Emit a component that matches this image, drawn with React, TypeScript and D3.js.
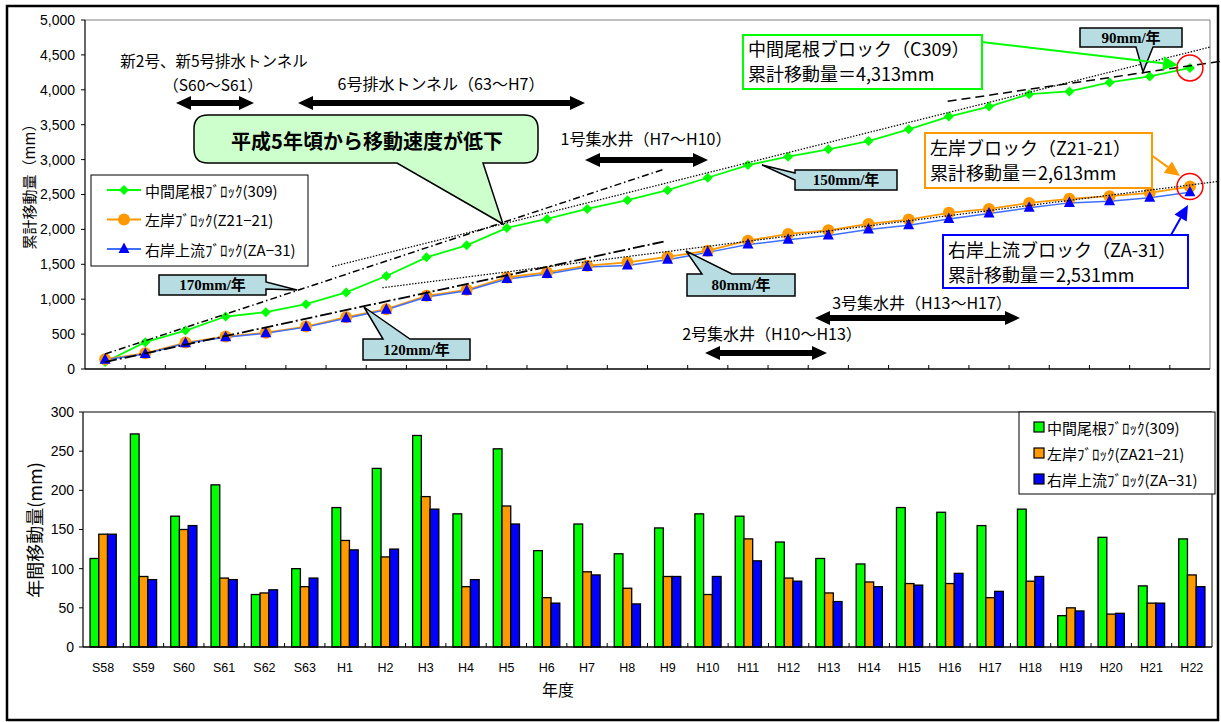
import * as d3 from 'd3';

const categories = [
  'S58', 'S59', 'S60', 'S61', 'S62', 'S63',
  'H1', 'H2', 'H3', 'H4', 'H5', 'H6', 'H7', 'H8', 'H9', 'H10', 'H11',
  'H12', 'H13', 'H14', 'H15', 'H16', 'H17', 'H18', 'H19', 'H20', 'H21', 'H22',
];

// cumulative movement (mm)
const cumChuukan = [100, 385, 550, 752, 814, 929, 1097, 1332, 1600, 1772, 2021, 2150, 2294, 2418, 2562, 2740, 2921, 3042, 3147, 3266, 3434, 3616, 3760, 3937, 3976, 4105, 4191, 4313];
const cumSagan = [140, 225, 378, 464, 520, 608, 742, 857, 1049, 1135, 1312, 1384, 1480, 1527, 1605, 1695, 1839, 1935, 1987, 2079, 2141, 2237, 2294, 2380, 2438, 2476, 2524, 2613];
const cumUgan = [132, 215, 370, 455, 512, 600, 728, 848, 1030, 1121, 1289, 1361, 1461, 1484, 1566, 1671, 1782, 1853, 1911, 1997, 2060, 2150, 2227, 2309, 2380, 2404, 2452, 2531];

// annual movement (mm)
const annualChuukan = [113, 272, 167, 207, 67, 100, 178, 228, 270, 170, 253, 123, 157, 119, 152, 170, 167, 134, 113, 106, 178, 172, 155, 176, 40, 140, 78, 138];
const annualSagan = [144, 90, 150, 88, 69, 77, 136, 115, 192, 77, 180, 63, 96, 75, 90, 67, 138, 88, 69, 83, 81, 81, 63, 84, 50, 42, 56, 92];
const annualUgan = [144, 86, 155, 86, 73, 88, 124, 125, 176, 86, 157, 56, 92, 55, 90, 90, 110, 84, 58, 77, 79, 94, 71, 90, 46, 43, 56, 77];

const topTicks = [0, 500, 1000, 1500, 2000, 2500, 3000, 3500, 4000, 4500, 5000];
const botTicks = [0, 50, 100, 150, 200, 250, 300];

// trend lines [category index, mm]
const trend170 = [[0, 215], [13.9, 2860]];
const trend120 = [[0, 100], [13.9, 1825]];
const trend150 = [[5.65, 1466], [27.5, 4612]];
const trend80 = [[6.9, 1164], [27.7, 2687]];
const trend90 = [[20.97, 3836], [27.8, 4411]];

const JP = "'Noto Sans CJK JP', 'Noto Sans', sans-serif";
const NUM = "'Liberation Sans', Arial, sans-serif";
const SERIF = "'Liberation Serif', 'Noto Sans CJK JP', serif";

const W = 1221;
const H = 722;
const pTop = { left: 85, right: 1210, top: 20, bottom: 369 };
const pBot = { left: 83, right: 1212, top: 412, bottom: 647 };

const xIdx = d3.scaleLinear().domain([-0.5, categories.length - 0.5]).range([pTop.left, pTop.right]);
const yTop = d3.scaleLinear().domain([0, 5000]).range([pTop.bottom, pTop.top]);
const xBand = d3.scaleBand<string>().domain(categories).range([pBot.left, pBot.right]).paddingInner(0.35).paddingOuter(0.175);
const xSub = d3.scaleBand<string>().domain(['c', 's', 'u']).range([0, xBand.bandwidth()]);
const yBot = d3.scaleLinear().domain([0, 300]).range([pBot.bottom, pBot.top]);

const fmt = d3.format(',');

const lineGen = d3.line<number>().x((_, i) => xIdx(i)).y((d) => yTop(d));
const trendGen = d3.line<number[]>().x((d) => xIdx(d[0])).y((d) => yTop(d[1]));

const diamond = 'M0,-5L5,0L0,5L-5,0Z';
const triangle = 'M0,-6.5L5.5,4L-5.5,4Z';

const blockArrow = (x1: number, x2: number, y: number) => {
  const sh = 3, hh = 7, hl = 15;
  return [
    [x1, y], [x1 + hl, y - hh], [x1 + hl, y - sh], [x2 - hl, y - sh], [x2 - hl, y - hh],
    [x2, y], [x2 - hl, y + hh], [x2 - hl, y + sh], [x1 + hl, y + sh], [x1 + hl, y + hh],
  ].map((p) => p.join(',')).join(' ');
};

const thinArrow = (x1: number, y1: number, x2: number, y2: number, color: string) => {
  const a = Math.atan2(y2 - y1, x2 - x1);
  const len = 15, half = 7;
  const bx = x2 - len * Math.cos(a), by = y2 - len * Math.sin(a);
  const head = [
    [x2, y2],
    [bx + half * Math.sin(a), by - half * Math.cos(a)],
    [bx - half * Math.sin(a), by + half * Math.cos(a)],
  ].map((p) => p.join(',')).join(' ');
  return (
    <g>
      <line x1={x1} y1={y1} x2={bx} y2={by} stroke={color} strokeWidth={2} />
      <polygon points={head} fill={color} />
    </g>
  );
};

// rectangle callout with a wedge tail on one side
const callout = (x: number, y: number, w: number, h: number, side: string, b1: number, b2: number, tx: number, ty: number) => {
  const r = x + w, b = y + h;
  if (side === 'top') return `M${x},${y}H${b1}L${tx},${ty}L${b2},${y}H${r}V${b}H${x}Z`;
  if (side === 'bottom') return `M${x},${y}H${r}V${b}H${b2}L${tx},${ty}L${b1},${b}H${x}Z`;
  if (side === 'left') return `M${x},${y}H${r}V${b}H${x}V${b2}L${tx},${ty}L${x},${b1}Z`;
  return `M${x},${y}H${r}V${b1}L${tx},${ty}L${r},${b2}V${b}H${x}Z`;
};

const rateBoxes = [
  { label: '90mm/年', x: 1080, y: 28, w: 102, h: 19, side: 'bottom', b1: 1136, b2: 1153, tx: 1143, ty: 72 },
  { label: '150mm/年', x: 795, y: 170, w: 102, h: 20, side: 'left', b1: 173, b2: 180, tx: 762, ty: 165 },
  { label: '170mm/年', x: 159, y: 275, w: 107, h: 20, side: 'right', b1: 282, b2: 289, tx: 297, ty: 290 },
  { label: '120mm/年', x: 363, y: 339, w: 107, h: 21, side: 'top', b1: 383, b2: 410, tx: 364, ty: 307 },
  { label: '80mm/年', x: 687, y: 274, w: 108, h: 22, side: 'top', b1: 702, b2: 732, tx: 686, ty: 251 },
];

const bigCallout = () => {
  const x = 194, y = 115, w = 344, h = 48, rr = 14;
  const r = x + w, b = y + h;
  return `M${x + rr},${y}H${r - rr}Q${r},${y} ${r},${y + rr}V${b - rr}Q${r},${b} ${r - rr},${b}H483L503,224L397,${b}H${x + rr}Q${x},${b} ${x},${b - rr}V${y + rr}Q${x},${y} ${x + rr},${y}Z`;
};

const App = () => {
  const last = categories.length - 1;
  return (
    <svg width={W} height={H} style={{ position: 'absolute', left: 0, top: 0, display: 'block', background: '#fff' }}>
      <rect x={7} y={6} width={1211} height={714} fill="#fff" stroke="#000" strokeWidth={2.5} />

      {/* ---------- upper chart ---------- */}
      <line x1={pTop.left} x2={pTop.right} y1={pTop.top} y2={pTop.top} stroke="#808080" />
      <line x1={pTop.right} x2={pTop.right} y1={pTop.top} y2={pTop.bottom} stroke="#808080" />
      <line x1={pTop.left} x2={pTop.left} y1={pTop.top} y2={pTop.bottom} stroke="#000" strokeWidth={1.2} />
      <line x1={pTop.left} x2={pTop.right} y1={pTop.bottom} y2={pTop.bottom} stroke="#000" strokeWidth={1.5} />
      {topTicks.map((t) => (
        <g key={t}>
          <line x1={pTop.left - 4} x2={pTop.left} y1={yTop(t)} y2={yTop(t)} stroke="#000" />
          <text x={75} y={yTop(t)} dy="0.35em" textAnchor="end" fontFamily={NUM} fontSize={14}>{fmt(t)}</text>
        </g>
      ))}
      {categories.slice(1).map((c, i) => (
        <line key={c} x1={xIdx(i + 0.5)} x2={xIdx(i + 0.5)} y1={pTop.bottom} y2={pTop.bottom - 4} stroke="#000" />
      ))}
      <text transform={`translate(28,183) rotate(-90)`} textAnchor="middle" dominantBaseline="central" fontFamily={JP} fontSize={15}>累計移動量（mm）</text>

      {/* series lines */}
      <path d={lineGen(cumChuukan) || ''} fill="none" stroke="#00ff00" strokeWidth={1.8} />
      <path d={lineGen(cumSagan) || ''} fill="none" stroke="#ff9900" strokeWidth={1.8} />
      <path d={lineGen(cumUgan) || ''} fill="none" stroke="#3f6fff" strokeWidth={1.5} />
      {cumChuukan.map((v, i) => (
        <path key={i} d={diamond} transform={`translate(${xIdx(i)},${yTop(v)})`} fill="#00ff00" />
      ))}
      {cumSagan.map((v, i) => (
        <circle key={i} cx={xIdx(i)} cy={yTop(v)} r={6} fill="#ff9900" />
      ))}
      {cumUgan.map((v, i) => (
        <path key={i} d={triangle} transform={`translate(${xIdx(i)},${yTop(v)})`} fill="#0000ff" />
      ))}

      {/* trend lines */}
      <path d={trendGen(trend170) || ''} fill="none" stroke="#000" strokeWidth={1.5} strokeDasharray="7 3 1.5 3" />
      <path d={trendGen(trend120) || ''} fill="none" stroke="#000" strokeWidth={1.8} strokeDasharray="12 3 2 3" />
      <path d={trendGen(trend150) || ''} fill="none" stroke="#000" strokeWidth={1.2} strokeDasharray="1.5 1.5" />
      <path d={trendGen(trend80) || ''} fill="none" stroke="#000" strokeWidth={1.2} strokeDasharray="1.5 1.5" />
      <path d={trendGen(trend90) || ''} fill="none" stroke="#000" strokeWidth={1.5} strokeDasharray="9 5" />

      {/* red circles on final values */}
      <circle cx={xIdx(last)} cy={yTop(cumChuukan[last])} r={13} fill="none" stroke="#ff0000" strokeWidth={1.5} />
      <circle cx={xIdx(last)} cy={yTop(cumSagan[last])} r={13} fill="none" stroke="#ff0000" strokeWidth={1.5} />

      {/* upper legend */}
      <rect x={91} y={175} width={217} height={91} fill="#fff" stroke="#000" />
      {[
        { label: '中間尾根ﾌﾞﾛｯｸ(309)', color: '#00ff00', mark: 'd' },
        { label: '左岸ﾌﾞﾛｯｸ(Z21−21)', color: '#ff9900', mark: 'c' },
        { label: '右岸上流ﾌﾞﾛｯｸ(ZA−31)', color: '#3f6fff', mark: 't' },
      ].map((e, i) => {
        const y = 190 + i * 29.5;
        return (
          <g key={e.label}>
            <line x1={107} x2={141} y1={y} y2={y} stroke={e.color} strokeWidth={1.8} />
            {e.mark === 'd' && <path d={diamond} transform={`translate(124,${y})`} fill="#00ff00" />}
            {e.mark === 'c' && <circle cx={124} cy={y} r={6} fill="#ff9900" />}
            {e.mark === 't' && <path d={triangle} transform={`translate(124,${y})`} fill="#0000ff" />}
            <text x={145} y={y} dominantBaseline="central" fontFamily={JP} fontSize={15}>{e.label}</text>
          </g>
        );
      })}

      {/* construction annotations */}
      <g fontFamily={JP} fontSize={16} textAnchor="middle" dominantBaseline="central">
        <text x={214} y={60} fontSize={15.5}>新2号、新5号排水トンネル</text>
        <text x={213} y={84} fontSize={15.5}>（S60～S61）</text>
        <text x={441} y={83}>6号排水トンネル（63～H7）</text>
        <text x={646} y={138}>1号集水井（H7～H10）</text>
        <text x={772} y={333}>2号集水井（H10～H13）</text>
        <text x={922} y={302}>3号集水井（H13～H17）</text>
      </g>
      <polygon points={blockArrow(176, 254, 103)} fill="#000" />
      <polygon points={blockArrow(298, 585, 103)} fill="#000" />
      <polygon points={blockArrow(585, 708, 160)} fill="#000" />
      <polygon points={blockArrow(705, 827, 353)} fill="#000" />
      <polygon points={blockArrow(815, 1020, 318)} fill="#000" />

      {/* big callout */}
      <path d={bigCallout()} fill="#ccffcc" stroke="#000" strokeWidth={1.5} />
      <text x={367} y={140} textAnchor="middle" dominantBaseline="central" fontFamily={JP} fontWeight="bold" fontSize={20}>平成5年頃から移動速度が低下</text>

      {/* rate callouts */}
      {rateBoxes.map((r) => (
        <g key={r.label}>
          <path d={callout(r.x, r.y, r.w, r.h, r.side, r.b1, r.b2, r.tx, r.ty)} fill="#b7dde3" stroke="#000" strokeWidth={1.5} />
          <text x={r.x + r.w / 2} y={r.y + r.h / 2} textAnchor="middle" dominantBaseline="central" fontFamily={SERIF} fontWeight="bold" fontSize={15}>{r.label}</text>
        </g>
      ))}

      {/* final value labels */}
      {thinArrow(982, 42, 1178, 65, '#00ff00')}
      {thinArrow(1147, 152, 1180, 176, '#ff9900')}
      {thinArrow(1171, 235, 1188, 205, '#0000ff')}
      <g fontFamily={JP} fontSize={18}>
        <rect x={743} y={35} width={239} height={54} fill="#fff" stroke="#00ff00" strokeWidth={2} />
        <text x={748} y={56}>中間尾根ブロック（C309）</text>
        <text x={748} y={81}>累計移動量＝4,313mm</text>
        <rect x={925} y={133} width={227} height={55} fill="#fff" stroke="#ff9900" strokeWidth={2} />
        <text x={930} y={155}>左岸ブロック（Z21-21）</text>
        <text x={930} y={180}>累計移動量＝2,613mm</text>
        <rect x={943} y={235} width={245} height={53} fill="#fff" stroke="#0000ff" strokeWidth={2} />
        <text x={948} y={257}>右岸上流ブロック（ZA-31）</text>
        <text x={948} y={282}>累計移動量＝2,531mm</text>
      </g>

      {/* ---------- lower chart ---------- */}
      <line x1={pBot.left} x2={pBot.right} y1={pBot.top} y2={pBot.top} stroke="#000" />
      <line x1={pBot.right} x2={pBot.right} y1={pBot.top} y2={pBot.bottom} stroke="#000" />
      <line x1={pBot.left} x2={pBot.left} y1={pBot.top} y2={pBot.bottom} stroke="#000" strokeWidth={1.2} />
      {botTicks.map((t) => (
        <g key={t}>
          <line x1={pBot.left - 4} x2={pBot.left} y1={yBot(t)} y2={yBot(t)} stroke="#000" />
          <text x={74} y={yBot(t)} dy="0.35em" textAnchor="end" fontFamily={NUM} fontSize={14}>{t}</text>
        </g>
      ))}
      {categories.map((c, i) => {
        const x0 = xBand(c) || 0;
        const vals = [annualChuukan[i], annualSagan[i], annualUgan[i]];
        const cols = ['#00ff00', '#ff9900', '#0000ff'];
        return (
          <g key={c}>
            {['c', 's', 'u'].map((k, j) => (
              <rect key={k} x={x0 + (xSub(k) || 0)} y={yBot(vals[j])} width={xSub.bandwidth()} height={yBot(0) - yBot(vals[j])}
                fill={cols[j]} stroke="#000" strokeWidth={1.3} />
            ))}
            <text x={x0 + xBand.bandwidth() / 2} y={668} textAnchor="middle" dominantBaseline="central" fontFamily={NUM} fontSize={12.5}>{c}</text>
          </g>
        );
      })}
      {categories.slice(1).map((c) => {
        const x = (xBand(c) || 0) - (xBand.step() - xBand.bandwidth()) / 2;
        return <line key={c} x1={x} x2={x} y1={pBot.bottom} y2={pBot.bottom - 4} stroke="#000" />;
      })}
      <line x1={pBot.left} x2={pBot.right} y1={pBot.bottom} y2={pBot.bottom} stroke="#000" strokeWidth={1.5} />
      <text transform={`translate(34,530) rotate(-90)`} textAnchor="middle" dominantBaseline="central" fontFamily={JP} fontSize={18}>年間移動量(mm)</text>
      <text x={558} y={689} textAnchor="middle" dominantBaseline="central" fontFamily={JP} fontSize={16}>年度</text>

      {/* lower legend */}
      <rect x={1019} y={412} width={196} height={82} fill="#fff" stroke="#000" />
      {[
        { label: '中間尾根ﾌﾞﾛｯｸ(309)', color: '#00ff00' },
        { label: '左岸ﾌﾞﾛｯｸ(ZA21−21)', color: '#ff9900' },
        { label: '右岸上流ﾌﾞﾛｯｸ(ZA−31)', color: '#0000ff' },
      ].map((e, i) => {
        const y = 427 + i * 26;
        return (
          <g key={e.label}>
            <rect x={1034} y={y - 5} width={10} height={10} fill={e.color} stroke="#000" strokeWidth={1.2} />
            <text x={1047} y={y} dominantBaseline="central" fontFamily={JP} fontSize={15}>{e.label}</text>
          </g>
        );
      })}
    </svg>
  );
};

export default App;
